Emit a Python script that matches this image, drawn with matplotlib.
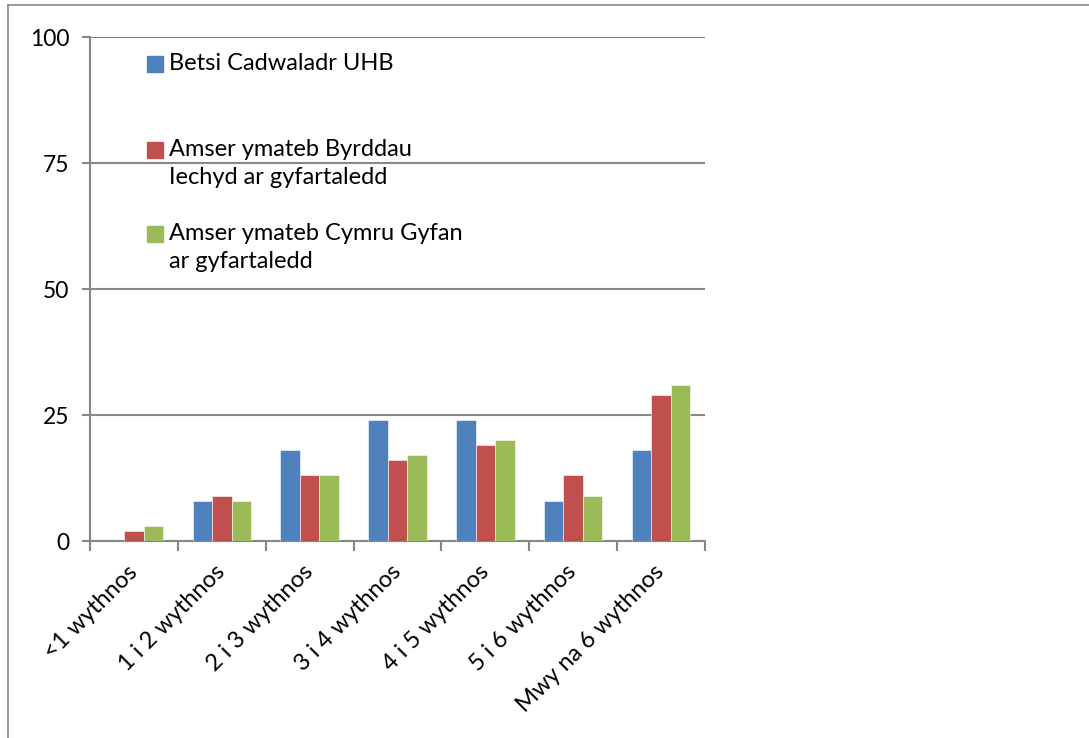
import numpy as np
import matplotlib.pyplot as plt
from matplotlib.lines import Line2D

plt.rcParams['font.family'] = ['Lato', 'DejaVu Sans']

# Data
categories = ['<1 wythnos', '1 i 2 wythnos', '2 i 3 wythnos', '3 i 4 wythnos',
              '4 i 5 wythnos', '5 i 6 wythnos', 'Mwy na 6 wythnos']
betsi = [0, 8, 18, 24, 24, 8, 18]
byrddau = [2, 9, 13, 16, 19, 13, 29]
cymru = [3, 8, 13, 17, 20, 9, 31]

series_names = ['Betsi Cadwaladr UHB',
                'Amser ymateb Byrddau\nIechyd ar gyfartaledd',
                'Amser ymateb Cymru Gyfan\nar gyfartaledd']
colors = ['#4F81BD', '#C0504D', '#9BBB59']
grid_col = '#878787'

fig = plt.figure(figsize=(10.89, 7.38), dpi=100)
ax = fig.add_axes([90 / 1089, 1 - 541 / 738, 615 / 1089, 504 / 738])

x = np.arange(len(categories))
w = 0.222
for i, vals in enumerate([betsi, byrddau, cymru]):
    ax.bar(x + (i - 1) * w, vals, width=w, color=colors[i],
           edgecolor='white', linewidth=0.4, zorder=3)

ax.set_xlim(-0.5, len(categories) - 0.5)
ax.set_ylim(0, 100)
ax.set_yticks([0, 25, 50, 75, 100])
ax.yaxis.grid(True, color=grid_col, linewidth=1.5, zorder=0)

# category boundaries as tick marks, labels at centres
ax.set_xticks(np.arange(len(categories) + 1) - 0.5)
ax.set_xticklabels([])
ax.set_xticks(x, minor=True)
ax.set_xticklabels(categories, minor=True, rotation=45, ha='right',
                   va='center', rotation_mode='anchor', fontsize=17)
ax.tick_params(axis='x', which='minor', length=0, pad=20)
ax.tick_params(axis='x', which='major', length=7, width=1.5, color=grid_col)
ax.tick_params(axis='y', length=6, width=1.5, color=grid_col, labelsize=16.5, pad=9)

for s in ['top', 'right']:
    ax.spines[s].set_visible(False)
for s in ['left', 'bottom']:
    ax.spines[s].set_color(grid_col)
    ax.spines[s].set_linewidth(1.5)

# legend drawn by hand so the square sits by the first line of each label
leg_y = [64, 150, 234]
for name, col, yy in zip(series_names, colors, leg_y):
    yf = (541 - yy) / 504
    ax.plot([(155 - 90) / 615], [yf], marker='s', markersize=11, color=col,
            transform=ax.transAxes, clip_on=False, zorder=5)
    ax.text((169 - 90) / 615, yf + 11 / 504, name, transform=ax.transAxes,
            va='top', ha='left', fontsize=17, linespacing=1.4)

# outer frame lines
fig.add_artist(Line2D([8 / 1089, 1], [1 - 5 / 738, 1 - 5 / 738],
                      color=grid_col, linewidth=1.2, transform=fig.transFigure))
fig.add_artist(Line2D([8 / 1089, 8 / 1089], [0, 1 - 5 / 738],
                      color=grid_col, linewidth=1.2, transform=fig.transFigure))

fig.savefig('out.png', dpi=100)
